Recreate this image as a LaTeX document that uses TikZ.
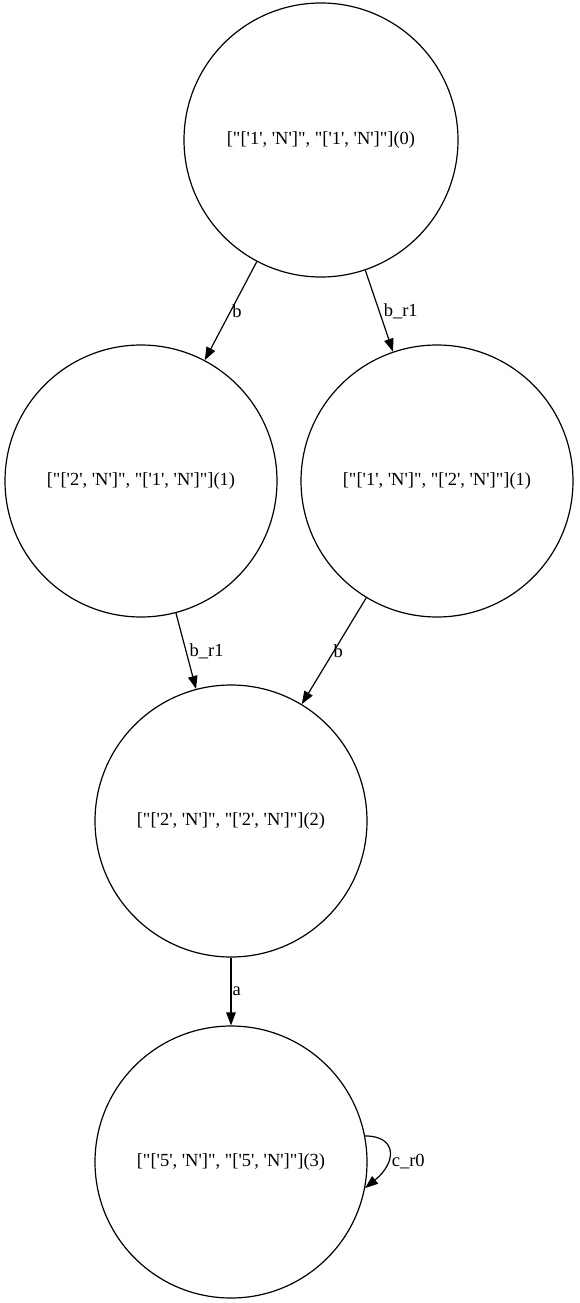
\documentclass[tikz,border=0pt]{standalone}
\usepackage{fontspec}
\setmainfont{Liberation Serif}[Ligatures=TeXOff]
\usetikzlibrary{arrows.meta}
\tikzset{
  st/.style={draw,circle,line width=1.2pt,minimum size=272pt,inner sep=0pt,font=\fontsize{18.5}{21}\selectfont},
  tr/.style={line width=1.2pt,-{Triangle[length=13pt,width=9.5pt]}},
  lb/.style={font=\fontsize{18.5}{21}\selectfont,inner sep=0pt}
}
\begin{document}
\begin{tikzpicture}[x=1pt,y=1pt]
\useasboundingbox (0,0) rectangle (579,-1303);
\node[st,minimum size=274pt](s0) at (321,-140){["['1', 'N']", "['1', 'N']"](0)};
\node[st](s1) at (141,-481){["['2', 'N']", "['1', 'N']"](1)};
\node[st](s2) at (437,-481){["['1', 'N']", "['2', 'N']"](1)};
\node[st](s3) at (231,-821){["['2', 'N']", "['2', 'N']"](2)};
\node[st](s4) at (231,-1162){["['5', 'N']", "['5', 'N']"](3)};
\draw[tr](s0)--(s1)node[lb,midway,anchor=west,xshift=1pt]{b};
\draw[tr](s0)--(s2)node[lb,midway,anchor=west,xshift=4pt]{b\_r1};
\draw[tr](s1)--(s3)node[lb,midway,anchor=west,xshift=3pt]{b\_r1};
\draw[tr](s2)--(s3)node[lb,midway,anchor=west,xshift=-1pt]{b};
\draw[tr](s3)--(s4)node[lb,midway,anchor=west,xshift=1pt]{a};
\draw[tr](s4.11) .. controls +(32,0) and +(32,26) .. (s4.-11);
\node[lb,anchor=west](l4) at ([xshift=24pt]s4.east){c\_r0};
\end{tikzpicture}
\end{document}
